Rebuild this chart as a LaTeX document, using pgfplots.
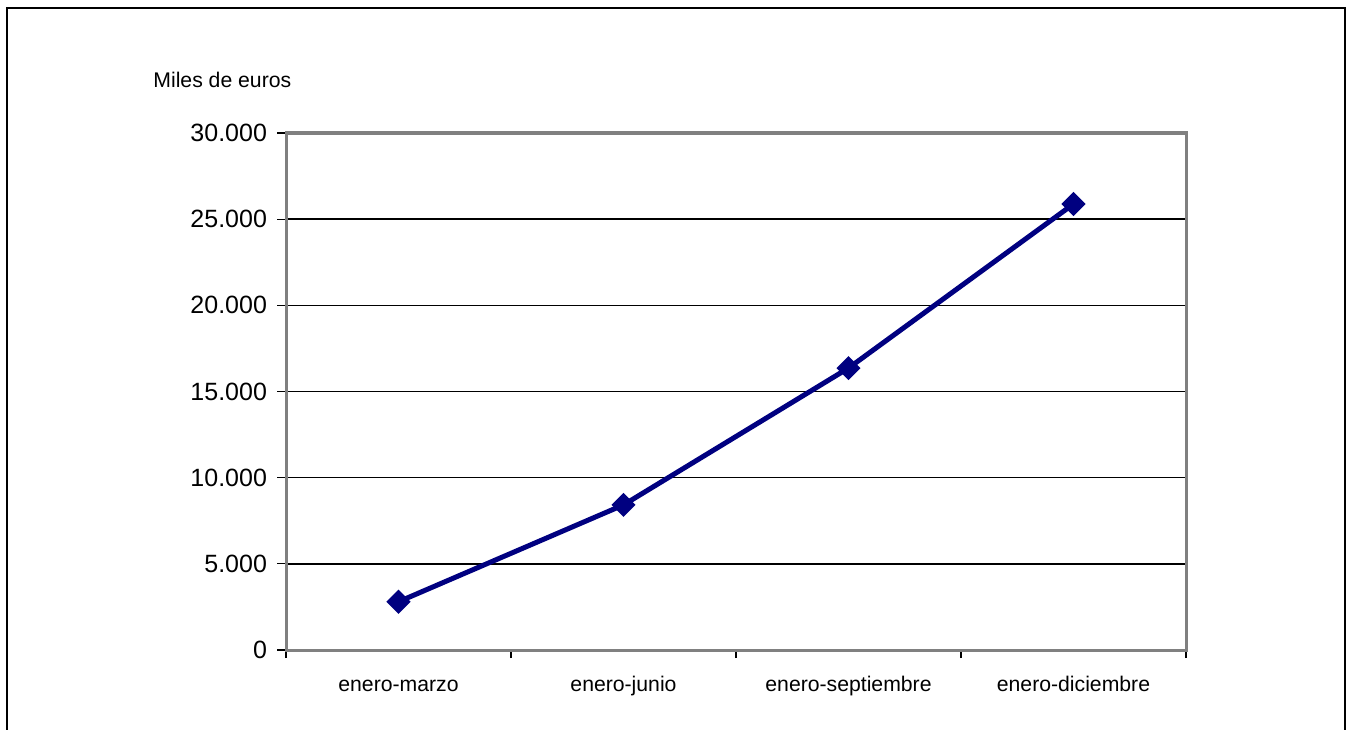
\documentclass[border=0pt]{standalone}
\usepackage{fontspec}
\setmainfont{Liberation Sans}
\usepackage{pgfplots}
\pgfplotsset{compat=1.18}
\definecolor{navyline}{RGB}{0,0,128}
\definecolor{axisgray}{RGB}{128,128,128}
\begin{document}
\begin{tikzpicture}[x=1pt,y=1pt]
\path[use as bounding box] (0,0) rectangle (676.5,364.5);
\draw[line width=1pt] (3.5,-10) -- (3.5,360.5) -- (672.5,360.5) -- (672.5,-10);
\node[anchor=west, font=\fontsize{10.6}{12}\selectfont, inner sep=0pt] at (76.5,324.5) {Miles de euros};
\begin{axis}[
  at={(143pt,39.5pt)}, anchor=south west,
  scale only axis, width=450pt, height=258.5pt,
  xmin=-0.5, xmax=3.5, ymin=0, ymax=30000,
  xtick={0,1,2,3},
  xticklabels={enero-marzo,enero-junio,enero-septiembre,enero-diciembre},
  minor xtick={-0.5,0.5,1.5,2.5,3.5},
  ytick={0,5000,10000,15000,20000,25000,30000},
  xtick pos=bottom, ytick pos=left,
  tick align=outside,
  major x tick style={draw=none},
  minor tick length=4pt, major tick length=4.5pt,
  every tick/.style={black, line width=0.6pt},
  ymajorgrids, major grid style={black, line width=0.7pt},
  axis line style={axisgray, line width=1.5pt},
  yticklabel style={font=\fontsize{12.5}{14}\selectfont, xshift=-1.5pt},
  xticklabel style={font=\fontsize{10.6}{12}\selectfont, yshift=-4.5pt,
    text height=8pt, text depth=2.2pt},
  scaled y ticks=false,
  /pgf/number format/.cd, 1000 sep={.}, assume math mode=true,
]
\addplot[navyline, line width=2.5pt, mark=square*, mark size=3pt,
  mark options={rotate=45, solid, fill=navyline}]
  coordinates {(0,2800) (1,8420) (2,16360) (3,25880)};
\end{axis}
\end{tikzpicture}
\end{document}
